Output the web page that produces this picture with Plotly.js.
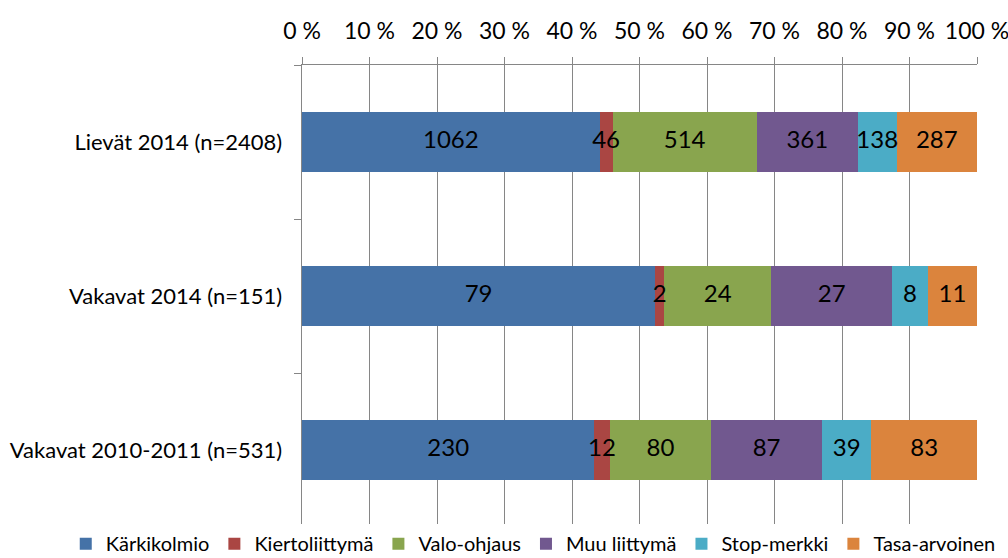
<!DOCTYPE html>
<html>
<head>
<meta charset="utf-8">
<script src="https://cdn.plot.ly/plotly-3.0.1.min.js"></script>
<style>html,body{margin:0;padding:0;background:#fff;}#chart{width:1008px;height:558px;}</style>
</head>
<body>
<div id="chart"></div>
<script>
const categories = ["Lievät 2014 (n=2408)", "Vakavat 2014 (n=151)", "Vakavat 2010-2011 (n=531)"];
const seriesNames = ["Kärkikolmio", "Kiertoliittymä", "Valo-ohjaus", "Muu liittymä", "Stop-merkki", "Tasa-arvoinen"];
const karkikolmio = [1062, 79, 230];
const kiertoliittyma = [46, 2, 12];
const valoOhjaus = [514, 24, 80];
const muuLiittyma = [361, 27, 87];
const stopMerkki = [138, 8, 39];
const tasaArvoinen = [287, 11, 83];
const tickValues = [0, 10, 20, 30, 40, 50, 60, 70, 80, 90, 100];
const tickLabels = ["0 %", "10 %", "20 %", "30 %", "40 %", "50 %", "60 %", "70 %", "80 %", "90 %", "100 %"];
const colors = ["#4572A7", "#AA4643", "#89A54E", "#71588F", "#4BACC6", "#DB843D"];

const seriesValues = [karkikolmio, kiertoliittyma, valoOhjaus, muuLiittyma, stopMerkki, tasaArvoinen];
const FONT = "Lato, 'Open Sans', sans-serif";

const data = seriesValues.map((vals, i) => ({
  type: "bar",
  orientation: "h",
  name: seriesNames[i],
  y: categories,
  x: vals,
  marker: {color: colors[i], line: {width: 0}},
  hoverinfo: "skip"
}));

// data labels drawn on top of all bars (centre of each stacked segment, in percent of row total)
const totals = categories.map((c, j) => seriesValues.reduce((s, arr) => s + arr[j], 0));
const labelX = [], labelY = [], labelText = [];
categories.forEach((c, j) => {
  let cum = 0;
  seriesValues.forEach(arr => {
    labelX.push((cum + arr[j] / 2) / totals[j] * 100);
    labelY.push(c);
    labelText.push(String(arr[j]));
    cum += arr[j];
  });
});
data.push({
  type: "scatter",
  mode: "text",
  x: labelX,
  y: labelY,
  text: labelText,
  textposition: "middle center",
  textfont: {family: FONT, size: 24, color: "#000"},
  cliponaxis: false,
  showlegend: false,
  hoverinfo: "skip"
});

const layout = {
  width: 1008,
  height: 558,
  margin: {l: 302, r: 31, t: 65, b: 31, autoexpand: false},
  paper_bgcolor: "#fff",
  plot_bgcolor: "#fff",
  barmode: "stack",
  barnorm: "percent",
  bargap: 0.61,
  showlegend: true,
  legend: {
    orientation: "h",
    x: -0.35,
    xanchor: "left",
    y: -0.036,
    yanchor: "middle",
    font: {family: FONT, size: 20, color: "#000"},
    traceorder: "normal",
    itemclick: false,
    itemdoubleclick: false
  },
  font: {family: FONT, color: "#000"},
  xaxis: {
    side: "top",
    range: [0, 100.0005],
    tickmode: "array",
    tickvals: tickValues,
    ticktext: tickLabels,
    ticklabeloverflow: "allow",
    tickfont: {family: FONT, size: 23, color: "#000"},
    showgrid: true,
    gridcolor: "#868686",
    gridwidth: 1,
    showline: true,
    linecolor: "#868686",
    linewidth: 1.5,
    ticks: "outside",
    ticklen: 7,
    tickcolor: "#868686",
    ticklabelstandoff: 8,
    zeroline: false,
    fixedrange: true
  },
  yaxis: {
    type: "category",
    categoryorder: "array",
    categoryarray: categories,
    autorange: "reversed",
    tickson: "boundaries",
    ticks: "outside",
    ticklen: 7,
    tickcolor: "#868686",
    showline: true,
    linecolor: "#868686",
    linewidth: 1.5,
    showgrid: false,
    zeroline: false,
    tickfont: {family: FONT, size: 22, color: "#000"},
    ticklabelstandoff: 14,
    fixedrange: true
  },
  hovermode: false
};

Plotly.newPlot("chart", data, layout, {displayModeBar: false, staticPlot: true});
</script>
</body>
</html>
